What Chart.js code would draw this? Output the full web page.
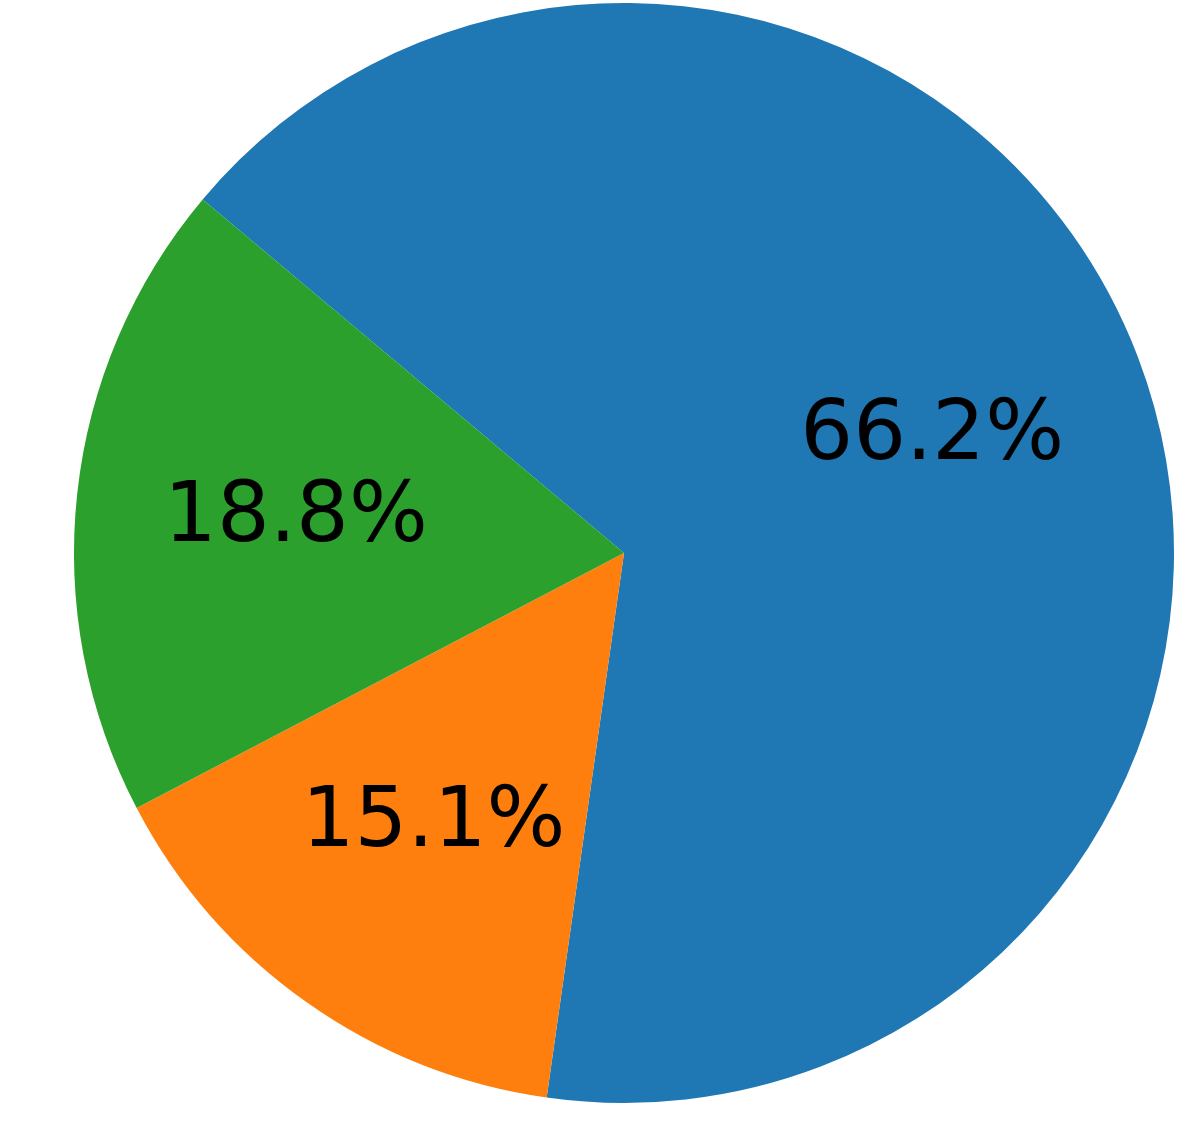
<!DOCTYPE html>
<html>
<head>
<meta charset="utf-8">
<script src="https://cdn.jsdelivr.net/npm/chart.js@4/dist/chart.umd.min.js"></script>
<style>
  html, body { margin: 0; padding: 0; background: #fff; }
  canvas { display: block; }
</style>
</head>
<body>
<canvas id="chart" width="1196" height="1145"></canvas>
<script>
const labels = ['A', 'B', 'C'];
const shares = [66.2, 15.1, 18.8];
const colors = ['#1f77b4', '#ff7f0e', '#2ca02c'];

// percent labels drawn at 0.6 of the radius, like matplotlib's pctdistance
const pctLabels = {
  id: 'pctLabels',
  afterDatasetsDraw(chart) {
    const ctx = chart.ctx;
    const meta = chart.getDatasetMeta(0);
    ctx.save();
    ctx.fillStyle = '#000';
    ctx.font = '83px "DejaVu Sans"';
    ctx.textAlign = 'center';
    ctx.textBaseline = 'middle';
    meta.data.forEach((arc, i) => {
      const p = arc.getProps(['x', 'y', 'startAngle', 'endAngle', 'outerRadius'], true);
      const mid = (p.startAngle + p.endAngle) / 2;
      const r = p.outerRadius * 0.6;
      ctx.fillText(shares[i].toFixed(1) + '%', p.x + Math.cos(mid) * r, p.y + Math.sin(mid) * r + 2);
    });
    ctx.restore();
  }
};

new Chart(document.getElementById('chart'), {
  type: 'pie',
  data: {
    labels: labels,
    datasets: [{
      data: shares,
      backgroundColor: colors,
      borderWidth: 0
    }]
  },
  options: {
    responsive: false,
    animation: false,
    rotation: 310,
    layout: { padding: { left: 74, right: 22, top: 3, bottom: 42 } },
    plugins: {
      legend: { display: false },
      tooltip: { enabled: false }
    }
  },
  plugins: [pctLabels]
});
</script>
</body>
</html>
